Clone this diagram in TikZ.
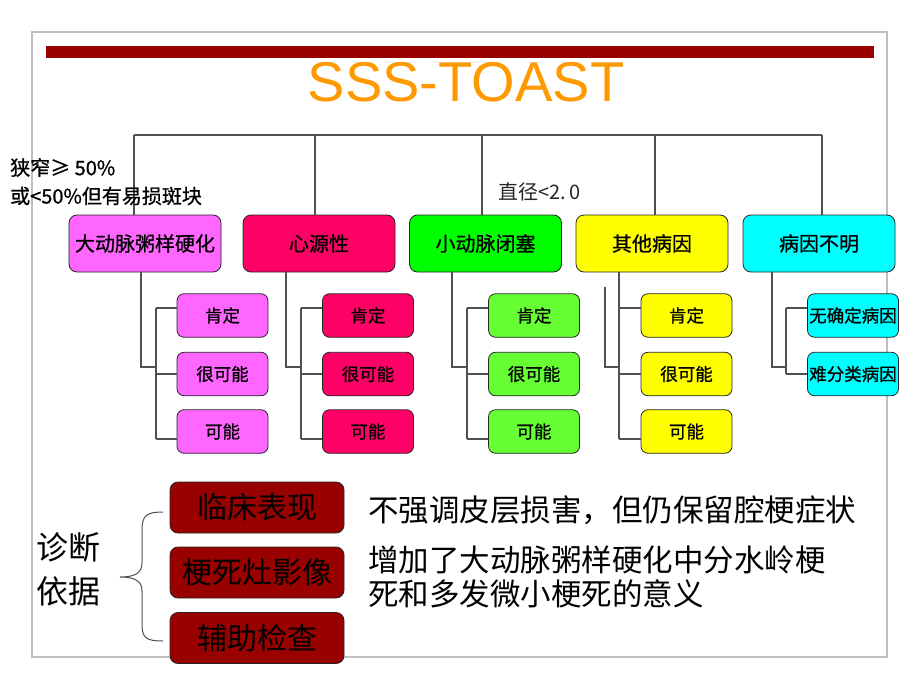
\documentclass[tikz,border=0pt]{standalone}
\usepackage{fontspec}
\setmainfont{Noto Sans CJK SC}
\newfontfamily\cjkb[FakeBold=0.8]{Noto Sans CJK SC}
\newfontfamily\titlefont{Liberation Sans}
\definecolor{dkred}{HTML}{990000}
\definecolor{ttl}{HTML}{FF9900}
\definecolor{cA}{HTML}{FF66FF}
\definecolor{cB}{HTML}{FF0066}
\definecolor{cC}{HTML}{00FF00}
\definecolor{cCs}{HTML}{66FF33}
\definecolor{cD}{HTML}{FFFF00}
\definecolor{cE}{HTML}{00FFFF}
\definecolor{frm}{HTML}{BFBFBF}
\definecolor{ln}{HTML}{505050}
\begin{document}
\begin{tikzpicture}[x=1pt,y=-1pt,
  conn/.style={draw=ln, line width=1.1pt},
  topbox/.style={draw=black!85, line width=0.8pt, rounded corners=8pt, minimum width=152pt, minimum height=57pt, inner sep=0pt, font=\cjkb\fontsize{20}{24}\selectfont},
  subbox/.style={draw=black!85, line width=0.8pt, rounded corners=7pt, minimum width=91pt, minimum height=43.5pt, inner sep=0pt, font=\cjkb\fontsize{17.5}{21}\selectfont},
  dkbox/.style={draw=black!85, line width=0.8pt, fill=dkred, rounded corners=8pt, minimum width=174pt, minimum height=51pt, inner sep=0pt, font=\fontsize{30}{36}\selectfont},
  lbl/.style={anchor=west, inner sep=0pt}]
\useasboundingbox (0,0) rectangle (920,690);
\fill[white] (0,0) rectangle (920,690);
% frame and bar
\draw[frm, line width=1.5pt] (32,32) rectangle (887,657);
\fill[dkred] (46,46) rectangle (874,58);
\node[anchor=base, inner sep=0pt, text=ttl, font=\titlefont\fontsize{56}{60}\selectfont] (title) at (466,102) {SSS-TOAST};

% top tree
\coordinate (h1) at (134,135);
\coordinate (h2) at (315,135);
\coordinate (h3) at (482,135);
\coordinate (h4) at (655,135);
\coordinate (h5) at (822,135);

% top boxes
\node[topbox, fill=cA] (b1) at (145,243.5) {大动脉粥样硬化};
\node[topbox, fill=cB] (b2) at (319,243.5) {心源性};
\node[topbox, fill=cC] (b3) at (485.5,243.5) {小动脉闭塞};
\node[topbox, fill=cD] (b4) at (652,243.5) {其他病因};
\node[topbox, fill=cE] (b5) at (819,243.5) {病因不明};

% sub boxes
\node[subbox, fill=cA] (s11) at (222.5,315.5) {肯定};
\node[subbox, fill=cA] (s12) at (222.5,374) {很可能};
\node[subbox, fill=cA] (s13) at (222.5,431.5) {可能};
\node[subbox, fill=cB] (s21) at (368,315.5) {肯定};
\node[subbox, fill=cB] (s22) at (368,374) {很可能};
\node[subbox, fill=cB] (s23) at (368,431.5) {可能};
\node[subbox, fill=cCs] (s31) at (534,315.5) {肯定};
\node[subbox, fill=cCs] (s32) at (534,374) {很可能};
\node[subbox, fill=cCs] (s33) at (534,431.5) {可能};
\node[subbox, fill=cD] (s41) at (686.5,315.5) {肯定};
\node[subbox, fill=cD] (s42) at (686.5,374) {很可能};
\node[subbox, fill=cD] (s43) at (686.5,431.5) {可能};
\node[subbox, fill=cE] (s51) at (853,315.5) {无确定病因};
\node[subbox, fill=cE] (s52) at (853,374) {难分类病因};

\draw[conn] (h1) -- (h5);
\draw[conn] (h1) -- (h1 |- b1.north);
\draw[conn] (h2) -- (h2 |- b2.north);
\draw[conn] (h3) -- (h3 |- b3.north);
\draw[conn] (h4) -- (h4 |- b4.north);
\draw[conn] (h5) -- (h5 |- b5.north);

% subtree 1
\coordinate (d1) at (141,367);
\coordinate (v1a) at (156,308);
\coordinate (v1b) at (156,374);
\coordinate (v1c) at (156,439);
\draw[conn] (d1 |- b1.south) -- (d1) -- (v1a |- d1);
\draw[conn] (v1a) -- (v1c);
\draw[conn] (v1a) -- (s11.west |- v1a);
\draw[conn] (v1b) -- (s12.west |- v1b);
\draw[conn] (v1c) -- (s13.west |- v1c);
% subtree 2
\coordinate (d2) at (286,367);
\coordinate (v2a) at (301,308);
\coordinate (v2b) at (301,374);
\coordinate (v2c) at (301,439);
\draw[conn] (d2 |- b2.south) -- (d2) -- (v2a |- d2);
\draw[conn] (v2a) -- (v2c);
\draw[conn] (v2a) -- (s21.west |- v2a);
\draw[conn] (v2b) -- (s22.west |- v2b);
\draw[conn] (v2c) -- (s23.west |- v2c);
% subtree 3
\coordinate (d3) at (452,367);
\coordinate (v3a) at (467,308);
\coordinate (v3b) at (467,374);
\coordinate (v3c) at (467,439);
\draw[conn] (d3 |- b3.south) -- (d3) -- (v3a |- d3);
\draw[conn] (v3a) -- (v3c);
\draw[conn] (v3a) -- (s31.west |- v3a);
\draw[conn] (v3b) -- (s32.west |- v3b);
\draw[conn] (v3c) -- (s33.west |- v3c);
% subtree 4
\coordinate (d4a) at (605,287);
\coordinate (d4) at (605,367);
\coordinate (v4a) at (619,308);
\coordinate (v4b) at (619,374);
\coordinate (v4c) at (619,439);
\draw[conn] (v4a |- b4.south) -- (v4c);
\draw[conn] (d4a) -- (d4) -- (v4a |- d4);
\draw[conn] (v4a) -- (s41.west |- v4a);
\draw[conn] (v4b) -- (s42.west |- v4b);
\draw[conn] (v4c) -- (s43.west |- v4c);
% subtree 5
\coordinate (d5) at (772,367);
\coordinate (v5a) at (786,308);
\coordinate (v5b) at (786,374);
\draw[conn] (d5 |- b5.south) -- (d5) -- (v5a |- d5);
\draw[conn] (v5a) -- (v5b);
\draw[conn] (v5a) -- (s51.west |- v5a);
\draw[conn] (v5b) -- (s52.west |- v5b);

% labels
\node[lbl, font=\cjkb\fontsize{20}{24}\selectfont] (n1) at (10,167.5) {狭窄≥ 50\%};
\node[lbl, font=\cjkb\fontsize{20}{24}\selectfont] (n2) at (10,196) {或<50\%但有易损斑块};
\node[lbl, font=\fontsize{20}{24}\selectfont, text=black!85] (n3) at (498,191.5) {直径<2.\,0};

% bottom
\node[lbl, font=\fontsize{32}{44}\selectfont, align=left] (zd) at (36,569) {诊断\\依据};
\node[dkbox] (k1) at (257,507.5) {临床表现};
\node[dkbox] (k2) at (257,572.5) {梗死灶影像};
\node[dkbox] (k3) at (257,638) {辅助检查};
\coordinate (br) at (120,577);
\draw[ln, line width=1pt] (163,512) .. controls (146,512) and (142,516) .. (142,530)
  -- (142,563) .. controls (142,573) and (135,577) .. (br)
  .. controls (135,577) and (142,581) .. (142,591)
  -- (142,624) .. controls (142,638) and (146,641) .. (163,641);
\node[lbl, font=\fontsize{30.5}{34}\selectfont] (r1) at (368,510) {不强调皮层损害，但仍保留腔梗症状};
\node[lbl, font=\fontsize{30.5}{34}\selectfont] (r2) at (368,560) {增加了大动脉粥样硬化中分水岭梗};
\node[lbl, font=\fontsize{30.5}{34}\selectfont] (r3) at (368,594) {死和多发微小梗死的意义};
\end{tikzpicture}
\end{document}
